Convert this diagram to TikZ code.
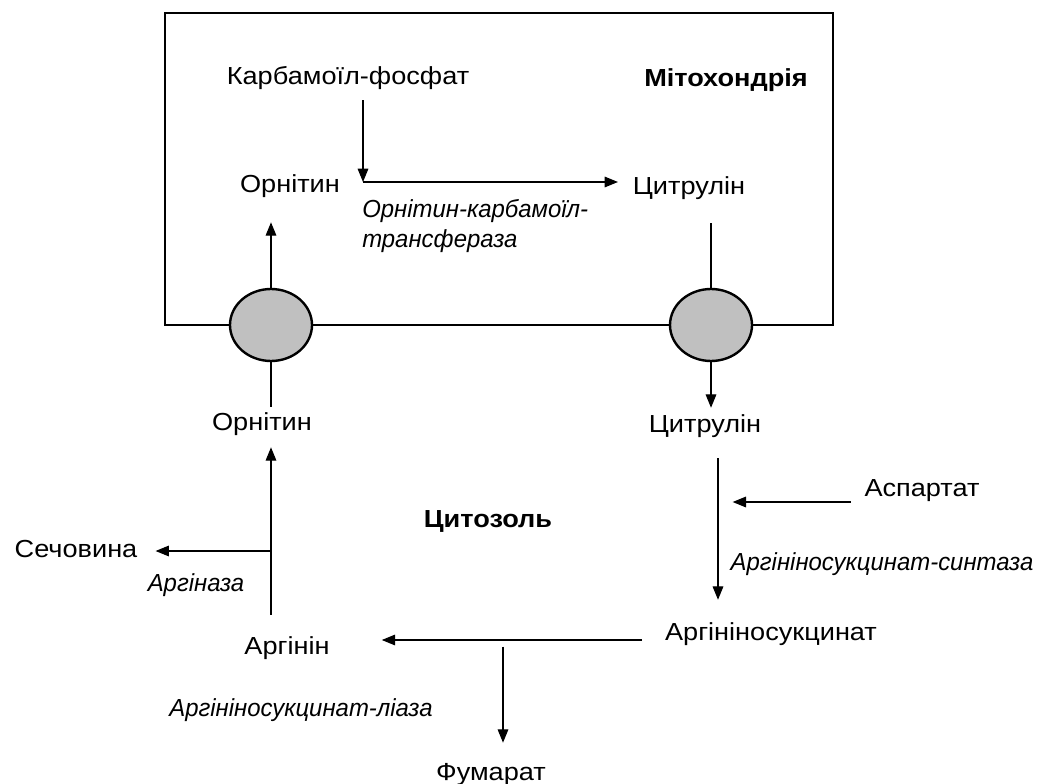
\documentclass[tikz,border=0pt]{standalone}
\usepackage{fontspec}
\setmainfont[FakeStretch=1.1]{Liberation Sans}
\newfontfamily\enzfont[FakeStretch=0.97]{Liberation Sans}
\usetikzlibrary{arrows.meta,shapes.geometric}

\definecolor{carriergray}{RGB}{192,192,192}
\newcommand{\figfont}{\fontsize{18.5pt}{22pt}\selectfont}

\tikzset{
  chem/.style={inner sep=0pt, font=\figfont, text height=13pt, text depth=4pt},
  enzyme/.style={inner sep=0pt, font=\figfont\enzfont\itshape, align=left},
  zone/.style={inner sep=0pt, font=\figfont\bfseries},
  arr/.style={-{Triangle[length=10pt,width=8pt]}, line width=0.8pt},
  plain/.style={line width=0.8pt},
  membrane/.style={line width=1.5pt},
  carrier/.style={ellipse, draw, line width=1.8pt, fill=carriergray,
    minimum width=61.5pt, minimum height=54pt, inner sep=0pt}
}

\begin{document}
\begin{tikzpicture}[x=0.75pt, y=-0.75pt]
  \useasboundingbox (0,0) rectangle (1038,784);

  % mitochondrion
  \draw[membrane] (165,13) rectangle (833,325);
  \node[zone] (mito) at (726,80) {Мітохондрія};
  \node[chem] (carb) at (348,79) {Карбамоїл-фосфат};
  \node[chem] (orn1) at (290,187) {Орнітин};
  \node[chem] (citr1) at (689,189) {Цитрулін};
  \node[enzyme, anchor=west] (otcase) at (362,226) {Орнітин-карбамоїл-\\трансфераза};
  \coordinate (otc) at (363,182);

  % transporters
  \node[carrier] (memL) at (271,325) {};
  \node[carrier] (memR) at (711,325) {};

  % cytosol
  \node[zone] (cyto) at (488,521) {Цитозоль};
  \node[chem] (orn2) at (262,424) {Орнітин};
  \node[chem] (citr2) at (705,426) {Цитрулін};
  \node[chem] (asp) at (922,490) {Аспартат};
  \node[chem] (urea) at (76,551) {Сечовина};
  \node[enzyme] (argase) at (196,585) {Аргіназа};
  \node[enzyme] (asynth) at (882,564) {Аргініносукцинат-синтаза};
  \node[chem] (argsuc) at (771,634) {Аргініносукцинат};
  \node[chem] (arg) at (287,648) {Аргінін};
  \node[enzyme] (alyase) at (301,710) {Аргініносукцинат-ліаза};
  \node[chem] (fum) at (491,774) {Фумарат};
  \coordinate (synth) at (718,502);
  \coordinate (lyase) at (503,640);

  % inside
  \draw[arr, shorten <=7.3pt] (carb.south -| otc) -- (otc);
  \draw[arr, shorten >=11pt] (otc) -- (citr1.west |- otc);
  \draw[plain, shorten <=17pt] (citr1.south -| memR) -- (memR.north);
  \draw[arr, shorten >=17.8pt] (memL.north) -- (orn1.south -| memL);

  % through the membrane
  \draw[arr, shorten >=5pt] (memR.south) -- (citr2.north -| memR);
  \draw[plain, shorten >=4.3pt] (memL.south) -- (orn2.north -| memL);

  % outside
  \draw[arr, shorten <=15.5pt, shorten >=17pt] (citr2.south -| synth) -- (argsuc.north -| synth);
  \draw[arr, shorten <=10pt, shorten >=11pt] (asp.west |- synth) -- (synth);
  \draw[arr, shorten <=17pt, shorten >=39pt] (argsuc.west |- lyase) -- (arg.east |- lyase);
  \draw[arr, shorten <=5pt, shorten >=14.8pt] (lyase) -- (fum.north -| lyase);
  \draw[arr, shorten <=16.3pt, shorten >=8.8pt] (arg.north -| memL) -- (orn2.south -| memL);
  \draw[arr, shorten >=13.5pt] (urea.east -| memL) -- (urea.east);

\end{tikzpicture}
\end{document}
